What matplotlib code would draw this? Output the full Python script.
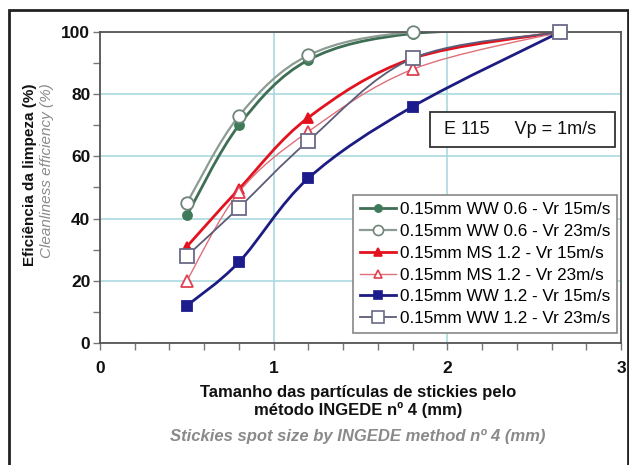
import numpy as np
import matplotlib
matplotlib.use("Agg")
import matplotlib.pyplot as plt
from matplotlib.path import Path
from matplotlib.patches import PathPatch, Rectangle
from matplotlib.lines import Line2D

plt.rcParams['font.family'] = ['Liberation Sans', 'DejaVu Sans']

# particle size (mm)
sizes = [0.5, 0.8, 1.2, 1.8, 2.65]

ww06_vr15 = [41, 70, 91, 99.5, 100]
ww06_vr23 = [45, 73, 92.5, 100, 100]
ms12_vr15 = [31, 49.5, 72.5, 91.5, 100]
ms12_vr23 = [20, 48.5, 68, 88, 100]
ww12_vr15 = [12, 26, 53, 76, 100]
ww12_vr23 = [28, 43.5, 65, 91.5, 100]

labels = ["0.15mm WW 0.6 - Vr 15m/s", "0.15mm WW 0.6 - Vr 23m/s",
          "0.15mm MS 1.2 - Vr 15m/s", "0.15mm MS 1.2 - Vr 23m/s",
          "0.15mm WW 1.2 - Vr 15m/s", "0.15mm WW 1.2 - Vr 23m/s"]

# line colour, line width, marker, face, edge, marker size
styles = [
    ('#3e6e54', 2.0, 'o', '#3f7a5a', '#3f7a5a', 6.5),
    ('#8c9c92', 1.6, 'o', 'white', '#6f857a', 9),
    ('#e3121f', 2.0, '^', '#e3121f', '#e3121f', 7.5),
    ('#e0707a', 1.0, '^', 'white', '#e04050', 8),
    ('#1c1c82', 2.0, 's', '#1c1c8c', '#1c1c8c', 7),
    ('#5c5c78', 1.3, 's', 'white', '#6a6a88', 10),
]


def smooth_path(x, y):
    # excel-like smoothed line (catmull-rom as bezier)
    pts = np.column_stack([x, y]).astype(float)
    p = np.vstack([pts[0], pts, pts[-1]])
    verts = [pts[0]]
    codes = [Path.MOVETO]
    for i in range(1, len(p) - 2):
        p0, p1, p2, p3 = p[i - 1], p[i], p[i + 1], p[i + 2]
        verts += [p1 + (p2 - p0) / 6, p2 - (p3 - p1) / 6, p2]
        codes += [Path.CURVE4] * 3
    return Path(verts, codes)


fig = plt.figure(figsize=(6.29, 4.65), dpi=100)
ax = fig.add_axes([100 / 629, 1 - 343 / 465, 521 / 629, 311 / 465])

series = [ww06_vr15, ww06_vr23, ms12_vr15, ms12_vr23, ww12_vr15, ww12_vr23]
handles = []
for k, (vals, st) in enumerate(zip(series, styles)):
    lc, lw, mk, mf, me, ms = st
    ax.add_patch(PathPatch(smooth_path(sizes, vals), facecolor='none',
                           edgecolor=lc, lw=lw, zorder=2 + k * 0.1))
    ax.plot(sizes, vals, ls='none', marker=mk, mfc=mf, mec=me, ms=ms,
            mew=1.3, zorder=4 + k * 0.1, clip_on=False)
    handles.append(Line2D([], [], color=lc, lw=lw, marker=mk, mfc=mf,
                          mec=me, ms=ms * 0.8, mew=1.2))

ax.set_xlim(0, 3)
ax.set_ylim(0, 100)
ax.set_xticks([0, 1, 2, 3])
ax.set_xticks(np.arange(0, 3.01, 0.2), minor=True)
ax.set_yticks([0, 20, 40, 60, 80, 100])
ax.set_yticks(np.arange(0, 101, 10), minor=True)
ax.grid(True, which='major', color='#a9d9df', lw=1.2, zorder=0)
ax.set_axisbelow(True)
for s in ax.spines.values():
    s.set_color('#555555')
    s.set_linewidth(1.3)
ax.tick_params(which='both', direction='out', length=5, width=1,
               color='#777777')
ax.tick_params(axis='x', pad=8)
ax.tick_params(axis='y', pad=2)
for t in ax.get_xticklabels() + ax.get_yticklabels():
    t.set_fontweight('bold')
    t.set_fontsize(12.5)
    t.set_color('#111111')

# axis titles
fig.text(358 / 629, 1 - 392 / 465, "Tamanho das partículas de stickies pelo",
         ha='center', va='center', fontsize=12, fontweight='bold', color='#111111')
fig.text(358 / 629, 1 - 410 / 465, "método INGEDE nº 4 (mm)",
         ha='center', va='center', fontsize=12, fontweight='bold', color='#111111')
fig.text(358 / 629, 1 - 436 / 465, "Stickies spot size by INGEDE method nº 4 (mm)",
         ha='center', va='center', fontsize=12, fontweight='bold', style='italic',
         color='#8a8a8a')
fig.text(30 / 629, 1 - 83 / 465, "Eficiência da limpeza (%)", rotation=90,
         rotation_mode='anchor', ha='right', va='center', fontsize=11,
         fontweight='bold', color='#111111')
fig.text(47 / 629, 1 - 83 / 465, "Cleanliness efficiency (%)", rotation=90,
         rotation_mode='anchor', ha='right', va='center', fontsize=11,
         style='italic', color='#8a8a8a')

# info box
ax.add_patch(Rectangle(((430 - 100) / 521, (343 - 147) / 311), 185 / 521, 35 / 311,
                       transform=ax.transAxes, facecolor='white', edgecolor='#333333',
                       lw=1.3, zorder=6))
ax.text((520 - 100) / 521, (343 - 129.5) / 311, "E 115     Vp = 1m/s",
        transform=ax.transAxes, ha='center', va='center', fontsize=13,
        color='#111111', zorder=7)

leg = ax.legend(handles, labels, loc='lower right', bbox_to_anchor=(0.992, 0.032),
                borderaxespad=0, fontsize=12.3, frameon=True, fancybox=False,
                labelspacing=0.4, handlelength=2.1, handletextpad=0.2,
                borderpad=0.4, framealpha=1)
leg.get_frame().set_edgecolor('#888888')
leg.get_frame().set_linewidth(1.2)
leg.set_zorder(8)

# outer frame
fig.add_artist(Rectangle((9 / 629, -0.05), 619 / 629, (455 / 465) + 0.05,
                         transform=fig.transFigure, fill=False, lw=2,
                         edgecolor='#222222'))

fig.savefig("out.png", dpi=100)
